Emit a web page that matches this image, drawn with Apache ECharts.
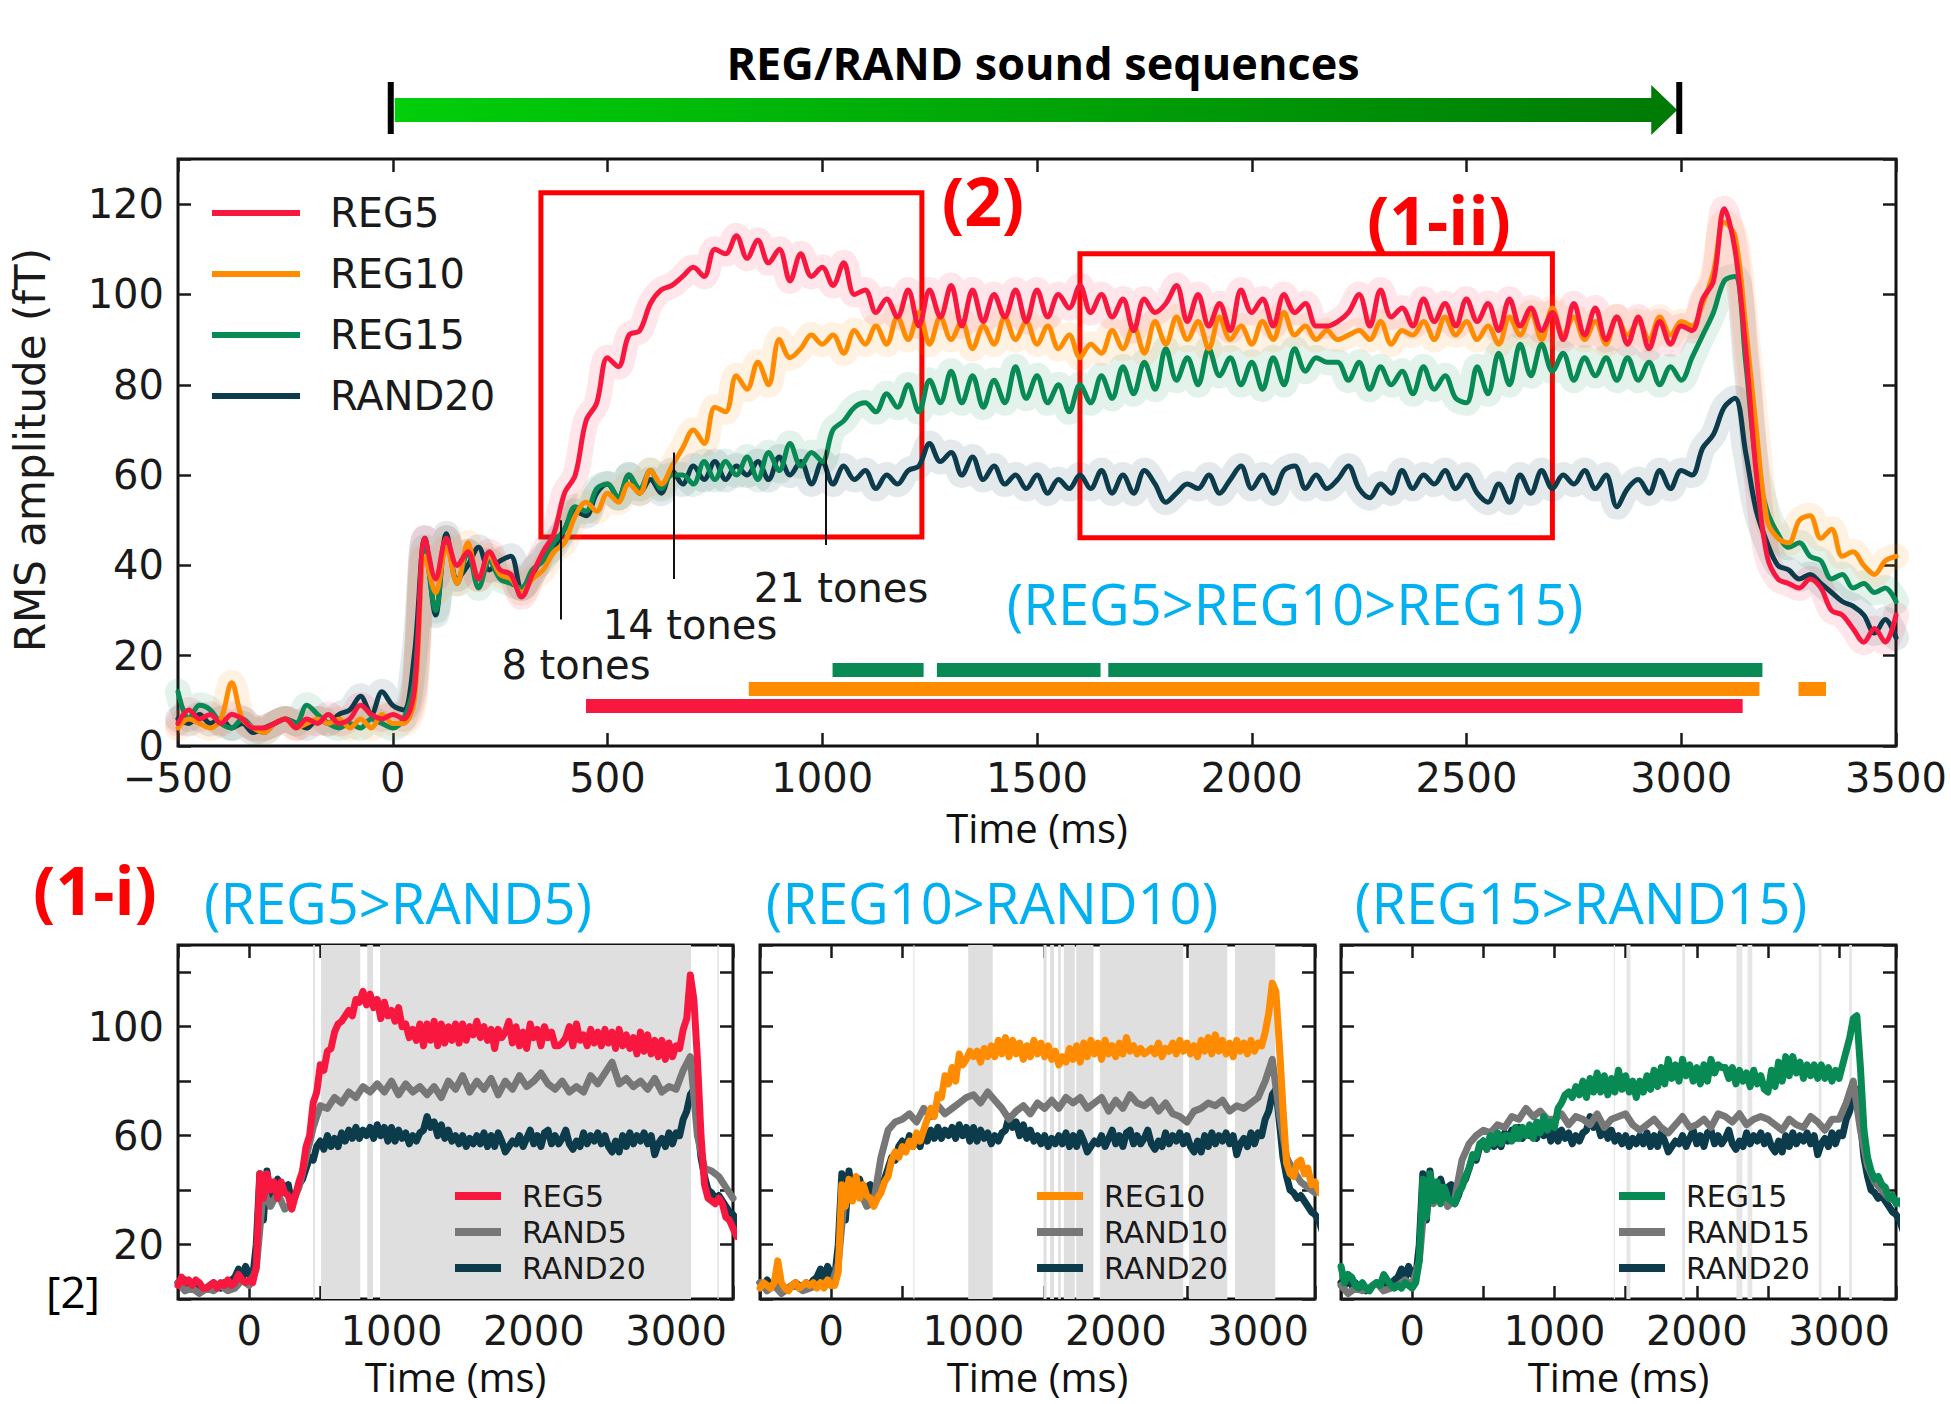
<!DOCTYPE html>
<html><head><meta charset="utf-8">
<script src="https://cdn.jsdelivr.net/npm/echarts@6/dist/echarts.min.js"></script>
<style>html,body{margin:0;padding:0;background:#fff}#c{width:1951px;height:1404px}</style>
</head><body><div id="c"></div>
<script>
// ---------- sampling grids ----------
const TIME_START = -500, TIME_STEP = 25;   // REG5 / REG10 / REG15 / RAND20
const RAND_START = -500, RAND_STEP = 50;   // RAND5 / RAND10 / RAND15

// ---------- series values (fT) ----------
const REG5 = [
 5,8,6,7,5,7,6,4,4,5,6,4,6,5,7,5,6,9,7,6,
 7,6,12,46,37,46,40,43,37,43,39,38,33,38,43,47,56,60,72,76,
 86,84,91,92,98,101,102,104,106,104,110,109,113,108,112,107,110,103,109,104,
 106,102,107,100,101,96,99,95,101,93,101,95,102,93,101,94,100,95,101,94,
 101,95,100,97,102,96,100,95,99,92,99,96,98,102,94,100,93,98,92,101,
 96,99,93,100,96,98,93,93,94,96,100,93,101,95,97,93,99,94,98,93,
 99,94,98,92,99,93,97,92,96,90,98,91,97,90,95,89,95,88,94,89,
 93,92,99,103,119,110,88,60,42,37,36,35,37,35,30,29,26,23,26,23,
 29];
const REG10 = [
 4,6,5,4,6,14,6,4,3,5,6,4,5,6,5,6,4,6,4,7,
 5,5,10,42,34,44,36,45,37,42,38,37,34,37,39,43,45,51,54,52,
 56,54,58,56,61,58,62,66,70,67,75,74,82,79,85,80,90,86,88,91,
 89,91,87,92,89,93,89,95,90,96,89,95,90,94,88,93,89,95,90,94,
 89,93,88,91,86,89,87,92,88,93,87,94,89,95,90,94,88,95,90,93,
 89,94,90,96,91,93,90,92,90,91,92,90,94,89,92,91,94,90,95,91,
 94,90,93,89,95,91,96,90,97,91,95,90,94,89,95,91,94,90,95,91,
 94,93,98,105,116,113,93,70,50,46,45,50,51,46,48,42,43,40,38,41,
 42];
const REG15 = [
 12,6,9,8,5,4,6,4,3,5,6,5,9,7,5,4,5,4,6,5,
 4,6,14,44,30,46,36,43,35,41,37,36,35,39,41,45,48,53,52,57,
 58,55,60,57,61,57,60,60,58,63,59,63,60,64,59,65,61,67,62,65,
 63,70,72,75,76,74,78,75,80,74,81,76,83,76,82,75,81,76,84,77,
 82,76,80,74,80,76,82,77,84,78,85,79,88,81,86,80,88,82,86,80,
 85,79,86,80,88,83,86,85,85,81,85,79,84,80,83,78,84,79,82,77,
 76,84,78,87,80,89,82,89,83,87,81,86,82,86,81,86,81,85,80,84,
 81,86,91,96,103,104,85,62,52,47,44,45,42,41,37,38,35,36,34,35,
 32];
const RAND20 = [
 6,5,7,5,6,4,5,3,4,5,6,5,4,6,5,7,8,11,7,12,
 9,8,20,46,29,47,37,40,44,39,41,42,35,38,42,44,48,52,51,56,
 58,55,60,56,59,56,61,58,62,59,63,59,62,60,63,59,64,60,63,58,
 63,58,62,59,61,57,60,58,61,62,67,63,65,60,64,59,62,58,60,57,
 60,56,59,57,60,57,61,56,60,56,61,58,54,56,58,57,60,56,59,62,
 57,60,56,61,62,57,60,57,59,62,57,55,58,56,61,57,60,58,61,57,
 60,56,54,58,54,60,56,61,57,60,58,61,57,60,53,57,59,56,61,57,
 61,60,66,69,75,77,65,52,45,40,39,37,38,36,34,32,31,29,25,28,
 24];
const RAND5 = [
 6,3,4,2,4,3,5,3,4,7,
 5,11,40,34,39,33,35,41,52,63,
 71,70,74,72,76,74,78,76,79,76,
 80,75,79,76,78,75,78,74,80,77,
 82,76,80,77,81,75,80,77,82,78,
 80,83,79,77,80,76,78,76,82,79,
 83,87,79,81,78,80,77,81,76,78,
 77,84,89,60,48,47,45,41,37];
const RAND10 = [
 6,3,5,2,4,5,3,4,5,6,
 5,13,41,37,40,34,36,52,62,65,
 66,68,65,70,67,71,68,70,72,74,
 75,72,76,73,70,66,69,71,68,72,
 70,73,70,74,72,74,70,72,74,69,
 73,70,75,72,71,73,69,72,68,67,
 65,69,70,72,71,73,69,71,70,72,
 74,80,88,68,52,47,43,41,39];
const RAND15 = [
 5,2,4,3,4,6,3,4,5,7,
 5,14,43,35,41,34,37,51,57,60,
 62,61,64,63,67,66,70,67,69,66,
 66,68,64,67,66,64,68,63,66,67,
 68,64,62,64,66,63,61,64,67,63,
 64,66,63,68,67,65,68,64,66,67,
 66,64,62,66,64,63,67,65,62,66,
 66,72,80,62,49,43,40,37,36];

// ---------- significance (ms ranges) ----------
const sigREG5  = [[450,3143]];
const sigREG10 = [[829,3182],[3273,3337]];
const sigREG15 = [[1024,1236],[1267,1648],[1666,3189]];
const shadeP1 = [[450,462],[505,780],[830,870],[920,3105],[3290,3300]];
const shadeP2 = [[578,585],[963,1135],[1492,1514],[1539,1566],[1595,1614],[1635,1712],[1722,1843],[1888,2474],[2515,2784],[2838,3121]];
const shadeP3 = [[1417,1425],[1506,1534],[1898,1917],[2279,2321],[2357,2390],[2857,2876],[3071,3090]];

// ---------- annotations ----------
const toneTimes = [390, 655, 1008];
const toneLow   = [28, 37, 44.5];
const toneHigh  = [50, 65, 65.5];
const toneNames = ['8 tones', '14 tones', '21 tones'];
const boxTime = [[345,1232],[1600,2700]];
const boxAmp  = [[46.3,122.5],[46.1,109]];
const stimulusSpan = [0, 3000];

// ---------- axes / tick labels ----------
const mainX = [-500, 3500], panelX = [-500, 3400], ampRange = [0, 130];
const panelXLabels = [0, 1000, 2000, 3000];
const panelYLabels = [20, 60, 100];

const C = {REG5:'#f7173f', REG10:'#ff8c00', REG15:'#088a55', RAND20:'#0c3b4b', RAND:'#777777'};
const TICK = '#1a1a1a', DV = 'DejaVu Sans', OS = 'Open Sans';

const pairs = (arr, t0, dt) => arr.map((v, i) => [t0 + i * dt, v]);

function lineS(name, data, color, width, ax, z, opacity, smooth) {
  return {type:'line', name, data, xAxisIndex:ax, yAxisIndex:ax, z, smooth: smooth || false,
    showSymbol:false, symbol:'none', silent:true, clip:true, animation:false,
    emphasis:{disabled:true},
    itemStyle:{color}, lineStyle:{color, width, opacity: opacity == null ? 1 : opacity, join:'round', cap:'round'}};
}

function xAxesFor(grid, range, fmt, withName, nameGap) {
  const base = {type:'value', gridIndex:grid, min:range[0], max:range[1], interval:500,
    splitLine:{show:false}, axisLine:{show:false, onZero:false},
    axisTick:{show:true, inside:true, length:13, lineStyle:{color:TICK, width:2.5}}};
  return [
    Object.assign({}, base, {position:'bottom',
      axisLabel:{show:true, formatter:fmt, margin:12, fontFamily:DV, fontSize:40, color:TICK, showMinLabel:true, showMaxLabel:true, hideOverlap:false},
      name: withName ? 'Time (ms)' : '', nameLocation:'middle', nameGap,
      nameTextStyle:{fontFamily:OS, fontSize:40, color:'#111'}}),
    Object.assign({}, base, {position:'top', axisLabel:{show:false}})
  ];
}
function yAxesFor(grid, fmt, showLabels) {
  const base = {type:'value', gridIndex:grid, min:ampRange[0], max:ampRange[1], interval:20,
    splitLine:{show:false}, axisLine:{show:false, onZero:false},
    axisTick:{show:true, inside:true, length:13, lineStyle:{color:TICK, width:2.5}}};
  return [
    Object.assign({}, base, {position:'left',
      axisLabel:{show:showLabels, formatter:fmt, margin:14, fontFamily:DV, fontSize:40, color:TICK, showMinLabel:true, hideOverlap:false}}),
    Object.assign({}, base, {position:'right', axisLabel:{show:false}})
  ];
}

const mainXFmt = v => (v < 0 ? '\u2212' + (-v) : String(v));
const panelXFmt = v => (panelXLabels.indexOf(v) >= 0 ? String(v) : '');
const mainYFmt = v => (v > 120 ? '' : String(v));
const panelYFmt = v => (panelYLabels.indexOf(v) >= 0 ? String(v) : '');

const grids = [
  {left:178, top:159, width:1718, height:587},
  {left:178, top:945, width:555, height:354},
  {left:760, top:945, width:555, height:354},
  {left:1341, top:945, width:555, height:354}
].map(g => Object.assign(g, {show:true, borderColor:'#111', borderWidth:3, backgroundColor:'rgba(0,0,0,0)'}));

const xAxis = [].concat(
  xAxesFor(0, mainX, mainXFmt, true, 61),
  xAxesFor(1, panelX, panelXFmt, true, 57),
  xAxesFor(2, panelX, panelXFmt, true, 57),
  xAxesFor(3, panelX, panelXFmt, true, 57));
const yAxis = [].concat(
  yAxesFor(0, mainYFmt, true),
  yAxesFor(1, panelYFmt, true),
  yAxesFor(2, panelYFmt, false),
  yAxesFor(3, panelYFmt, false));

const P = s => pairs(s, TIME_START, TIME_STEP);
const PR = s => pairs(s, RAND_START, RAND_STEP);

function sigLines(name, segs, level, color) {
  return {type:'lines', name, coordinateSystem:'cartesian2d', xAxisIndex:0, yAxisIndex:0, z:4,
    polyline:false, silent:true, animation:false, effect:{show:false},
    lineStyle:{color, width:14, opacity:1, curveness:0},
    data: segs.map(s => ({coords:[[s[0], level], [s[1], level]]}))};
}
function shadeHost(ax, ranges, color) {
  return {type:'line', name:'shade' + ax, data:[], xAxisIndex:ax, yAxisIndex:ax, z:1, silent:true, animation:false,
    markArea:{silent:true, animation:false, label:{show:false}, itemStyle:{color, borderWidth:0},
      data: ranges.map(r => [{xAxis:r[0]}, {xAxis:r[1]}])}};
}

const SM = 0.35;
const series = [
  // SEM-like translucent bands (same data, drawn wide and faint)
  lineS('band20', P(RAND20), C.RAND20, 26, 0, 2, 0.11, SM),
  lineS('band15', P(REG15), C.REG15, 26, 0, 2, 0.11, SM),
  lineS('band10', P(REG10), C.REG10, 26, 0, 2, 0.11, SM),
  lineS('band5',  P(REG5),  C.REG5,  26, 0, 2, 0.11, SM),
  lineS('RAND20', P(RAND20), C.RAND20, 5, 0, 3, 1, SM),
  lineS('REG15',  P(REG15),  C.REG15,  5, 0, 3, 1, SM),
  lineS('REG10',  P(REG10),  C.REG10,  5, 0, 3, 1, SM),
  lineS('REG5',   P(REG5),   C.REG5,   5, 0, 3, 1, SM),
  sigLines('sig15', sigREG15, 16.8, C.REG15),
  sigLines('sig10', sigREG10, 12.7, C.REG10),
  sigLines('sig5',  sigREG5,  8.9,  C.REG5),
  {type:'line', name:'annot', data:[], xAxisIndex:0, yAxisIndex:0, z:10, silent:true, animation:false,
    markArea:{silent:true, animation:false, label:{show:false},
      itemStyle:{color:'rgba(0,0,0,0)', borderColor:'#ff0000', borderWidth:5},
      data: boxTime.map((b, i) => [{coord:[b[0], boxAmp[i][1]]}, {coord:[b[1], boxAmp[i][0]]}])},
    markLine:{silent:true, animation:false, symbol:['none','none'], label:{show:false},
      lineStyle:{color:'#111', width:2, type:'solid'},
      data: toneTimes.map((t, i) => [{coord:[t, toneLow[i]]}, {coord:[t, toneHigh[i]]}])}},
  // panel 1
  shadeHost(2, shadeP1, '#dfdfdf'),
  lineS('RAND20', P(RAND20), C.RAND20, 7, 2, 3),
  lineS('RAND5',  PR(RAND5), C.RAND,   7, 2, 3),
  lineS('REG5',   P(REG5),   C.REG5,   7, 2, 3),
  // panel 2
  shadeHost(4, shadeP2, '#dfdfdf'),
  lineS('RAND20', P(RAND20), C.RAND20, 7, 4, 3),
  lineS('RAND10', PR(RAND10), C.RAND,  7, 4, 3),
  lineS('REG10',  P(REG10),  C.REG10,  7, 4, 3),
  // panel 3
  shadeHost(6, shadeP3, '#e6e6e6'),
  lineS('RAND20', P(RAND20), C.RAND20, 7, 6, 3),
  lineS('RAND15', PR(RAND15), C.RAND,  7, 6, 3),
  lineS('REG15',  P(REG15),  C.REG15,  7, 6, 3)
];

function legendAt(names, left, top, w, h, gap, fs, pad) {
  return {show:true, data:names, orient:'vertical', left, top, icon:'rect',
    itemWidth:w, itemHeight:h, itemGap:gap, selectedMode:false, padding:0,
    textStyle:{fontFamily:DV, fontSize:fs, lineHeight:fs, color:'#1a1a1a', padding:[0,0,0,pad]}};
}

const chart = echarts.init(document.getElementById('c'), null, {renderer:'svg', width:1951, height:1404});
chart.setOption({
  animation:false, backgroundColor:'#ffffff',
  grid: grids, xAxis, yAxis, series,
  legend: [
    legendAt(['REG5','REG10','REG15','RAND20'], 212, 193, 88, 6, 21, 40, 25),
    legendAt(['REG5','RAND5','RAND20'], 455, 1181, 46, 8, 6, 30, 16),
    legendAt(['REG10','RAND10','RAND20'], 1037, 1181, 46, 8, 6, 30, 16),
    legendAt(['REG15','RAND15','RAND20'], 1619, 1181, 46, 8, 6, 30, 16)
  ]
});

// ---------- decorations ----------
const x0 = chart.convertToPixel({xAxisIndex:0}, stimulusSpan[0]);
const x1 = chart.convertToPixel({xAxisIndex:0}, stimulusSpan[1]);
function T(text, x, y, size, color, family, weight, rot) {
  return {type:'text', x, y, rotation: rot || 0, silent:true, z:50,
    style:{text, fill:color, fontSize:size, fontFamily:family, fontWeight:weight || 'normal', align:'center', verticalAlign:'middle'}};
}
const BLUE = '#00b0f0', RED = '#ff0000';
const graphic = [
  {type:'polygon', silent:true, z:40,
    shape:{points:[[x0+2,98],[x1-30,98],[x1-30,85],[x1-4,110],[x1-30,135],[x1-30,122],[x0+2,122]]},
    style:{fill:new echarts.graphic.LinearGradient(0,0,1,0,[{offset:0,color:'#00cf0a'},{offset:1,color:'#007a05'}])}},
  {type:'rect', silent:true, z:41, shape:{x:x0-5, y:82, width:6, height:52}, style:{fill:'#000'}},
  {type:'rect', silent:true, z:41, shape:{x:x1-5, y:82, width:6, height:52}, style:{fill:'#000'}},
  T('REG/RAND sound sequences', 1043, 62, 45, '#000', OS, 'bold'),
  T('RMS amplitude (fT)', 30, 450, 42, '#1a1a1a', DV, 'normal', Math.PI/2),
  T('(2)', 983, 200, 66, RED, OS, 'bold'),
  T('(1-ii)', 1439, 219, 66, RED, OS, 'bold'),
  T('(1-i)', 95, 889, 66, RED, OS, 'bold'),
  T('(REG5>REG10>REG15)', 1295, 603, 56, BLUE, OS),
  T('(REG5>RAND5)', 398, 902, 56, BLUE, OS),
  T('(REG10>RAND10)', 992, 902, 56, BLUE, OS),
  T('(REG15>RAND15)', 1581, 902, 56, BLUE, OS),
  T(toneNames[0], 576, 665, 40, '#1a1a1a', DV),
  T(toneNames[1], 690, 625, 40, '#1a1a1a', DV),
  T(toneNames[2], 841, 588, 40, '#1a1a1a', DV),
  T('[2]', 73, 1291, 44, '#000', OS)
];
chart.setOption({graphic});
</script></body></html>
